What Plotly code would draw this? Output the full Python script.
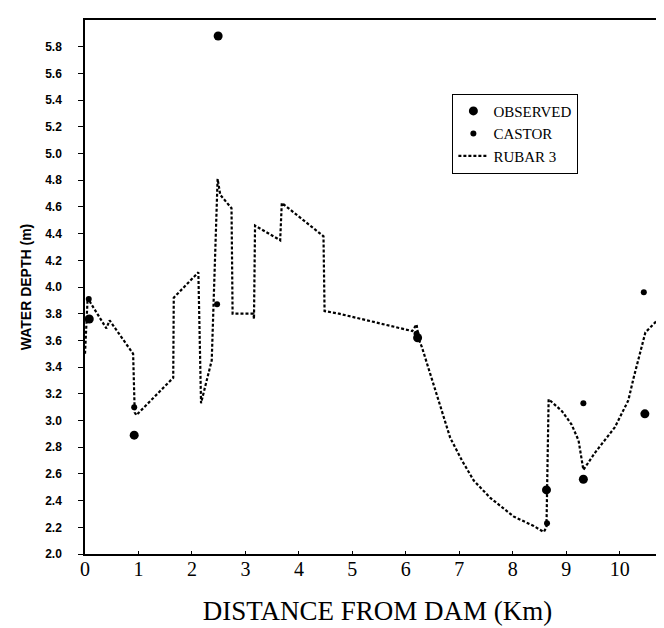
import plotly.graph_objects as go

# Observed water depths
obs_x = [0.08, 0.92, 2.49, 6.22, 8.63, 9.32, 10.47]
obs_y = [3.76, 2.89, 5.88, 3.62, 2.48, 2.56, 3.05]

# CASTOR model results
castor_x = [0.07, 0.92, 2.47, 6.20, 8.64, 9.32, 10.45]
castor_y = [3.91, 3.10, 3.87, 3.65, 2.23, 3.13, 3.96]

# RUBAR 3 model profile
rubar_x = [0.0, 0.05, 0.12, 0.40, 0.46, 0.90, 0.93, 0.96, 1.65, 1.66, 2.12, 2.17,
           2.37, 2.48, 2.53, 2.74, 2.76, 3.15, 3.16, 3.18, 3.65, 3.68, 4.46, 4.48,
           4.75, 6.12, 6.20, 6.25, 6.30, 6.46, 6.65, 6.83, 7.05, 7.27, 7.58, 8.02,
           8.39, 8.58, 8.63, 8.67, 8.92, 9.10, 9.23, 9.29, 9.32, 9.54, 9.91, 10.16,
           10.26, 10.48, 10.70]
rubar_y = [3.50, 3.92, 3.87, 3.69, 3.75, 3.50, 3.06, 3.04, 3.32, 3.92, 4.11, 3.13,
           3.45, 4.81, 4.69, 4.59, 3.80, 3.80, 3.76, 4.46, 4.35, 4.63, 4.38, 3.82,
           3.80, 3.67, 3.72, 3.60, 3.55, 3.35, 3.10, 2.87, 2.70, 2.55, 2.42, 2.28,
           2.21, 2.165, 2.20, 3.16, 3.07, 2.97, 2.85, 2.72, 2.63, 2.76, 2.95, 3.15,
           3.32, 3.66, 3.75]

x_ticks = [0, 1, 2, 3, 4, 5, 6, 7, 8, 9, 10]
y_ticks = [2.0, 2.2, 2.4, 2.6, 2.8, 3.0, 3.2, 3.4, 3.6, 3.8, 4.0, 4.2, 4.4, 4.6,
           4.8, 5.0, 5.2, 5.4, 5.6, 5.8]

fig = go.Figure()
fig.add_trace(go.Scatter(x=rubar_x, y=rubar_y, mode="lines", name="RUBAR 3",
                         legendrank=3,
                         line=dict(color="black", width=2.2, dash="3px,2px")))
fig.add_trace(go.Scatter(x=obs_x, y=obs_y, mode="markers", name="OBSERVED",
                         legendrank=1,
                         marker=dict(color="black", size=9, symbol="circle")))
fig.add_trace(go.Scatter(x=castor_x, y=castor_y, mode="markers", name="CASTOR",
                         legendrank=2,
                         marker=dict(color="black", size=6, symbol="circle")))

fig.update_layout(
    width=664, height=628,
    margin=dict(l=77, r=2, t=12, b=82),
    paper_bgcolor="white", plot_bgcolor="white",
    showlegend=True,
    legend=dict(x=0.628, y=0.862, xanchor="left", yanchor="top",
                bgcolor="white", bordercolor="black", borderwidth=1,
                font=dict(family="Liberation Serif", size=15, color="black"),
                traceorder="normal", itemwidth=30, tracegroupgap=0),
    xaxis=dict(range=[0, 10.94], tickvals=x_ticks, ticktext=[str(v) for v in x_ticks],
               showgrid=False, zeroline=False, showline=True, linecolor="black",
               linewidth=1.5, mirror=True, ticks="inside", ticklen=3, tickcolor="black",
               tickfont=dict(family="Liberation Serif", size=20, color="black"),
               ticklabelstandoff=-4,
               title=dict(text="DISTANCE FROM DAM (Km)", standoff=22,
                          font=dict(family="Liberation Serif", size=27, color="black"))),
    yaxis=dict(range=[2.0, 6.0], tickvals=y_ticks, ticktext=[f"{v:.1f}" for v in y_ticks],
               showgrid=False, zeroline=False, showline=True, linecolor="black",
               linewidth=1.5, ticks="outside", ticklen=5, tickcolor="black",
               tickfont=dict(family="Liberation Sans", size=12, color="black", weight="bold"),
               ticklabelstandoff=14,
               title=dict(text="WATER DEPTH (m)", standoff=10,
                          font=dict(family="Liberation Sans", size=14, color="black", weight="bold"))),
)

fig.write_html("out.html")
